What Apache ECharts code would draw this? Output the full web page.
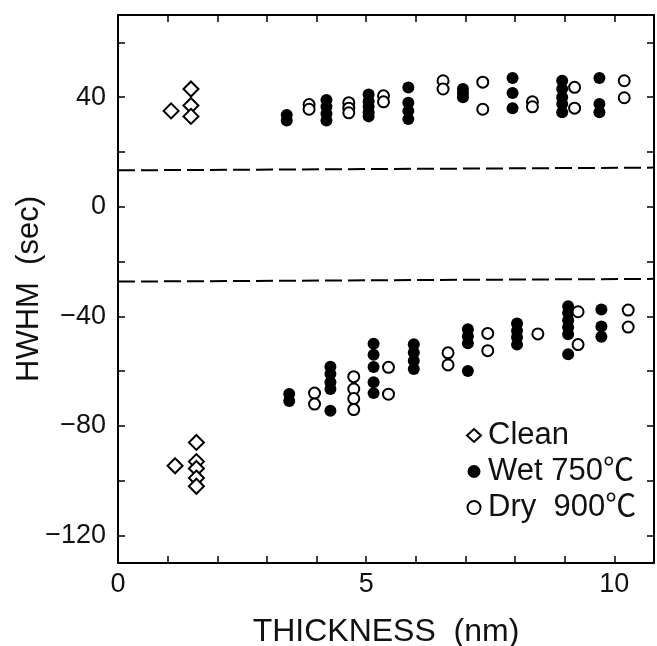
<!DOCTYPE html>
<html><head><meta charset="utf-8">
<script src="https://cdn.jsdelivr.net/npm/echarts@6/dist/echarts.min.js"></script>
<style>html,body{margin:0;padding:0;background:#fff}#c{width:657px;height:646px}</style>
</head><body><div id="c"></div>
<script>
// ---- data (thickness nm, HWHM sec) ----
const cleanPts = [[1.07,35],[1.47,43],[1.47,37],[1.47,33],
                  [1.15,-94.5],[1.58,-86],[1.58,-93],[1.58,-95.5],[1.58,-99],[1.58,-102]];
const wetPts = [
  [3.4,33.5],[3.4,31.5],
  [4.2,39],[4.2,36.5],[4.2,34],[4.2,31.5],
  [5.05,41],[5.05,38.5],[5.05,36.5],[5.05,34.5],[5.05,33],
  [5.85,43.5],[5.85,38],[5.85,35],[5.85,32],
  [6.95,43],[6.95,41.5],[6.95,40],
  [7.95,47],[7.95,41.5],[7.95,36],
  [8.95,46],[8.95,43],[8.95,40],[8.95,37.5],[8.95,34.5],
  [9.7,47],[9.7,37.5],[9.7,34.5],
  [3.45,-68.3],[3.45,-70.9],
  [4.28,-58.4],[4.28,-61],[4.28,-64],[4.28,-66.5],[4.28,-74.4],
  [5.15,-50],[5.15,-54],[5.15,-58.5],[5.15,-64],[5.15,-68],
  [5.96,-50.2],[5.96,-53.2],[5.96,-56.2],[5.96,-59.2],
  [7.05,-44.7],[7.05,-47.2],[7.05,-49.8],[7.05,-59.9],
  [8.04,-42.6],[8.04,-45.2],[8.04,-47.6],[8.04,-50.3],
  [9.07,-36.3],[9.07,-38.8],[9.07,-41.4],[9.07,-44],[9.07,-46.5],[9.07,-53.8],
  [9.74,-37.5],[9.74,-43.7],[9.74,-47.4]
];
const dryPts = [
  [3.85,37.3],[3.85,35.6],
  [4.65,38],[4.65,36],[4.65,34.3],
  [5.35,40.5],[5.35,38.3],
  [6.55,46],[6.55,43],
  [7.35,45.5],[7.35,35.6],
  [8.35,38.3],[8.35,36.5],
  [9.2,43.6],[9.2,36],
  [10.2,46],[10.2,39.8],
  [3.96,-68],[3.96,-72],
  [4.75,-62],[4.75,-66.5],[4.75,-70],[4.75,-74],
  [5.45,-58.6],[5.45,-68.4],
  [6.65,-53.3],[6.65,-57.7],
  [7.45,-46.2],[7.45,-52.5],
  [8.46,-46.4],
  [9.27,-38.3],[9.27,-50.3],
  [10.28,-37.7],[10.28,-43.9]
];
const upperDash = [[0,13.3],[10.8,14.3]];
const lowerDash = [[0,-27.3],[10.8,-26.3]];
const xTicks = [0,1,2,3,4,5,6,7,8,9,10];
const xLabels = [0,5,10];
const yTicks = [-120,-100,-80,-60,-40,-20,0,20,40,60];
const yLabels = [-120,-80,-40,0,40];
const seriesNames = ['Clean','Wet 750\u2103','Dry  900\u2103'];

const FONT = '"Liberation Sans", Arial, "Noto Sans CJK SC", sans-serif';
const chart = echarts.init(document.getElementById('c'), null, {renderer:'canvas'});
const axLine = {show:true, onZero:false, lineStyle:{color:'#000', width:2}};
const tick = (vals)=>({show:true, inside:true, length:7, customValues:vals, lineStyle:{color:'#000', width:1.5}});
chart.setOption({
  animation:false,
  backgroundColor:'#fff',
  grid:{left:118, right:3, top:15, bottom:83, containLabel:false, outerBoundsMode:'none'},
  xAxis:[
    {type:'value', min:0, max:10.8, position:'bottom',
     axisLine:axLine, axisTick:tick(xTicks), splitLine:{show:false},
     axisLabel:{customValues:xLabels, fontSize:27, color:'#111', fontFamily:FONT, margin:8},
     name:'THICKNESS  (nm)', nameLocation:'middle', nameGap:53,
     nameTextStyle:{fontSize:32, color:'#111', fontFamily:FONT}},
    {type:'value', min:0, max:10.8, position:'top',
     axisLine:axLine, axisTick:tick(xTicks), splitLine:{show:false}, axisLabel:{show:false}}
  ],
  yAxis:[
    {type:'value', min:-130, max:70, position:'left',
     axisLine:axLine, axisTick:tick(yTicks), splitLine:{show:false},
     axisLabel:{customValues:yLabels, fontSize:27, color:'#111', fontFamily:FONT, margin:12,
       formatter:v=> v<0 ? '\u2212'+Math.abs(v) : String(v)},
     name:'HWHM  (sec)', nameLocation:'middle', nameGap:73, nameRotate:90, nameMoveOverlap:false,
     nameTextStyle:{fontSize:31, color:'#111', fontFamily:FONT}},
    {type:'value', min:-130, max:70, position:'right',
     axisLine:axLine, axisTick:tick(yTicks), splitLine:{show:false}, axisLabel:{show:false}}
  ],
  legend:{
    orient:'vertical', left:461, top:415, itemGap:5, itemWidth:14, itemHeight:13,
    data:seriesNames,
    textStyle:{fontSize:31, color:'#111', fontFamily:FONT, padding:[0,0,0,2]}
  },
  series:[
    {name:'dashU', type:'line', data:upperDash, symbol:'none', silent:true,
     lineStyle:{color:'#000', width:2, type:[17,6]}},
    {name:'dashL', type:'line', data:lowerDash, symbol:'none', silent:true,
     lineStyle:{color:'#000', width:2, type:[17,6]}},
    {name:seriesNames[0], type:'scatter', data:cleanPts, symbol:'diamond', symbolSize:[15,15],
     itemStyle:{color:'#fff', borderColor:'#000', borderWidth:2, opacity:1}},
    {name:seriesNames[1], type:'scatter', data:wetPts, symbol:'circle', symbolSize:12,
     itemStyle:{color:'#000', borderColor:'#000', borderWidth:0, opacity:1}},
    {name:seriesNames[2], type:'scatter', data:dryPts, symbol:'circle', symbolSize:11,
     itemStyle:{color:'#fff', borderColor:'#000', borderWidth:2, opacity:1}}
  ]
});
</script></body></html>
